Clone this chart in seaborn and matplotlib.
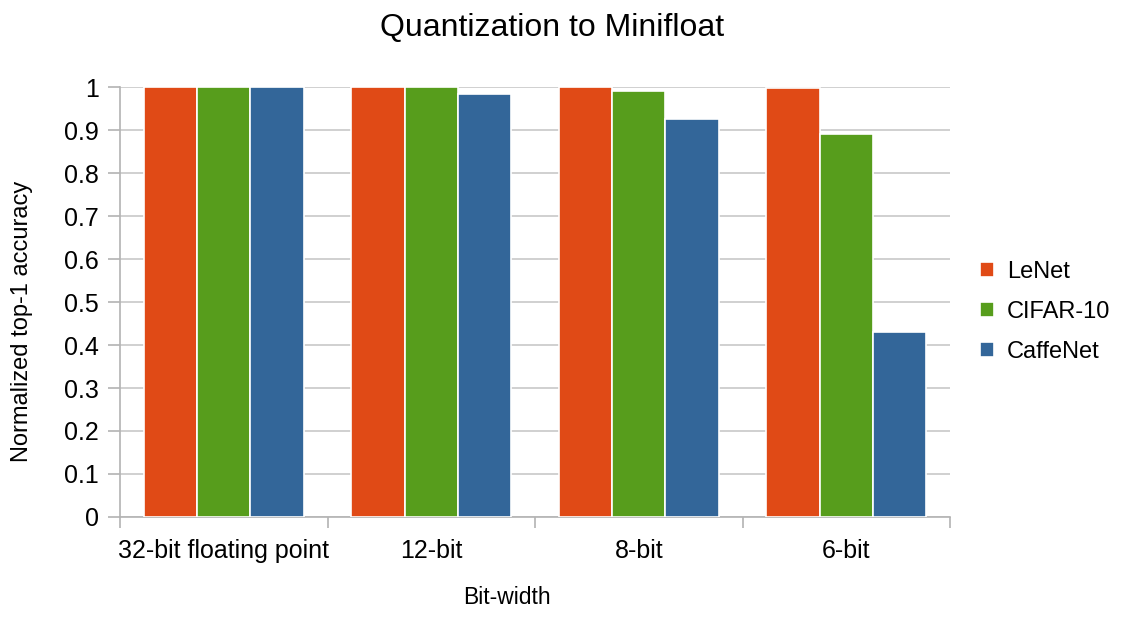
import pandas as pd
import numpy as np
import matplotlib
matplotlib.use("Agg")
import matplotlib.pyplot as plt
import seaborn as sns

categories = ["32-bit floating point", "12-bit", "8-bit", "6-bit"]
networks = ["LeNet", "CIFAR-10", "CaffeNet"]
lenet = [1.0, 1.0, 1.0, 0.997]
cifar10 = [1.0, 1.0, 0.991, 0.890]
caffenet = [1.0, 0.984, 0.925, 0.430]
yticks = [0, 0.1, 0.2, 0.3, 0.4, 0.5, 0.6, 0.7, 0.8, 0.9, 1]
ytick_labels = ["0", "0.1", "0.2", "0.3", "0.4", "0.5", "0.6", "0.7", "0.8", "0.9", "1"]

df = pd.DataFrame({
    "Bit-width": categories * 3,
    "Network": [n for n in networks for _ in categories],
    "Accuracy": lenet + cifar10 + caffenet,
})

sns.set_theme(style="white")
plt.rcParams["font.family"] = ["Liberation Sans", "DejaVu Sans"]
plt.rcParams["text.color"] = "black"
plt.rcParams["axes.labelcolor"] = "black"
plt.rcParams["xtick.labelcolor"] = "black"
plt.rcParams["ytick.labelcolor"] = "black"

colors = ["#E04A16", "#579D1C", "#336699"]

fig = plt.figure(figsize=(11.24, 6.19), dpi=100)
ax = fig.add_axes([0.1068, 0.1648, 0.7384, 0.6946])

sns.barplot(data=df, x="Bit-width", y="Accuracy", hue="Network", order=categories,
            hue_order=networks, palette=colors, width=0.77, saturation=1,
            edgecolor="white", linewidth=1.2, ax=ax, zorder=3)

ax.set_ylim(0, 1)
ax.set_xlim(-0.5, 3.5)
ax.set_yticks(yticks)
ax.set_yticklabels(ytick_labels)
ax.yaxis.grid(True, color="#c8c8c8", linewidth=1.2, zorder=0)
ax.set_axisbelow(True)
for s in ["top", "right"]:
    ax.spines[s].set_visible(False)
for s in ["left", "bottom"]:
    ax.spines[s].set_color("#b3b3b3")
    ax.spines[s].set_linewidth(1.2)

ax.set_xticks([-0.5, 0.5, 1.5, 2.5, 3.5], minor=False)
ax.set_xticklabels([])
ax.set_xticks([0, 1, 2, 3], minor=True)
ax.set_xticklabels(categories, minor=True, fontsize=18)
ax.tick_params(axis="x", which="major", length=8, color="#b3b3b3", width=1.2, direction="out", bottom=True)
ax.tick_params(axis="x", which="minor", length=0, pad=16)
ax.tick_params(axis="y", length=9, color="#b3b3b3", width=1.2, direction="out", left=True, labelsize=18, pad=6)

ax.set_xlabel("Bit-width", fontsize=16.5)
ax.xaxis.set_label_coords(0.466, -0.188)
ax.xaxis.label.set_va("center")
ax.set_ylabel("Normalized top-1 accuracy", fontsize=17)
ax.yaxis.set_label_coords(-0.118, 0.456)
ax.yaxis.label.set_va("center")
fig.text(552 / 1124, 1 - 28 / 619, "Quantization to Minifloat", fontsize=23, ha="center", va="center")

leg = ax.legend(loc="center left", bbox_to_anchor=(1.01, 0.477), frameon=False, fontsize=17,
                handlelength=0.6, handleheight=0.6, handletextpad=0.55, labelspacing=0.75)

fig.savefig("out.png", dpi=100)
